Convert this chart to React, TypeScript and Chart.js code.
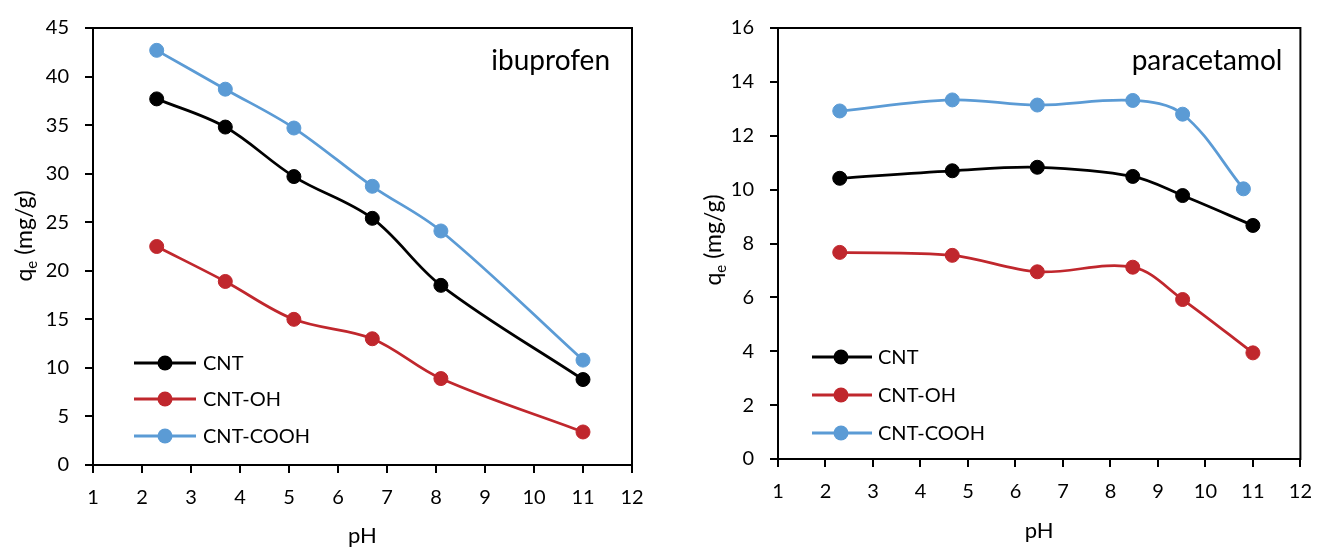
import React, { useEffect, useRef } from "react";
import { Chart, registerables } from "chart.js";
Chart.register(...registerables);

// ---------- data ----------
const seriesNames = ["CNT", "CNT-OH", "CNT-COOH"];
const seriesColors = ["#000000", "#C0272D", "#5B9BD5"];

const xTickValues = [1, 2, 3, 4, 5, 6, 7, 8, 9, 10, 11, 12];

// ibuprofen panel
const ibuPH = [2.3, 3.7, 5.1, 6.7, 8.1, 11.0];
const ibuCNT = [37.7, 34.8, 29.7, 25.4, 18.5, 8.8];
const ibuOH = [22.5, 18.9, 15.0, 13.0, 8.9, 3.4];
const ibuCOOH = [42.7, 38.7, 34.7, 28.7, 24.1, 10.8];
const ibuYTicks = [0, 5, 10, 15, 20, 25, 30, 35, 40, 45];

// paracetamol panel
const parPH = [2.3, 4.67, 6.46, 8.47, 9.52, 11.0];
const parPHCOOH = [2.3, 4.67, 6.46, 8.47, 9.52, 10.8];
const parCNT = [10.42, 10.7, 10.83, 10.49, 9.78, 8.67];
const parOH = [7.67, 7.56, 6.95, 7.12, 5.92, 3.94];
const parCOOH = [12.92, 13.33, 13.14, 13.31, 12.8, 10.03];
const parYTicks = [0, 2, 4, 6, 8, 10, 12, 14, 16];

const xTitle = "pH";
const FONT = "Lato, 'Open Sans', sans-serif";
const H = 549;

type Panel = {
  left: number;
  width: number;
  area: { left: number; top: number; right: number; bottom: number };
  label: string;
  labelRightGap: number;
  yTicks: number[];
  xs: number[][];
  ys: number[][];
  yTitleX: number;
  yTitleY: number;
  xTitleY: number;
  legend: { x1: number; x2: number; cx: number; tx: number; rows: number[] };
};

const panels: Panel[] = [
  {
    left: 0,
    width: 662,
    area: { left: 93, top: 24, right: 632, bottom: 465 },
    label: "ibuprofen",
    labelRightGap: 22,
    yTicks: ibuYTicks,
    xs: [ibuPH, ibuPH, ibuPH],
    ys: [ibuCNT, ibuOH, ibuCOOH],
    yTitleX: 25,
    yTitleY: 236,
    xTitleY: 536,
    legend: { x1: 134, x2: 196, cx: 165, tx: 203, rows: [363, 399, 436] },
  },
  {
    left: 662,
    width: 663,
    area: { left: 116, top: 21, right: 648, bottom: 459 },
    label: "paracetamol",
    labelRightGap: 18,
    yTicks: parYTicks,
    xs: [parPH, parPH, parPHCOOH],
    ys: [parCNT, parOH, parCOOH],
    yTitleX: 52,
    yTitleY: 240,
    xTitleY: 531,
    legend: { x1: 150, x2: 210, cx: 179, tx: 216, rows: [357, 395, 433] },
  },
];

function makeDecor(p: Panel) {
  return {
    id: "decor",
    beforeDatasetsDraw(chart: any) {
      const ctx = chart.ctx;
      const a = chart.chartArea;
      ctx.save();
      ctx.strokeStyle = "#000";
      ctx.lineWidth = 2;
      ctx.strokeRect(a.left, a.top, a.right - a.left, a.bottom - a.top);
      ctx.restore();
    },
    afterDraw(chart: any) {
      const ctx = chart.ctx;
      const a = chart.chartArea;
      ctx.save();
      ctx.fillStyle = "#000";
      // panel label
      ctx.font = `28px ${FONT}`;
      ctx.textAlign = "right";
      ctx.textBaseline = "middle";
      ctx.fillText(p.label, a.right - p.labelRightGap, a.top + 33);
      // x title
      ctx.font = `22px ${FONT}`;
      ctx.textAlign = "center";
      ctx.fillText(xTitle, (a.left + a.right) / 2, p.xTitleY);
      // y title with subscript
      ctx.save();
      ctx.translate(p.yTitleX, p.yTitleY);
      ctx.rotate(-Math.PI / 2);
      ctx.textAlign = "left";
      ctx.textBaseline = "middle";
      ctx.font = `23px ${FONT}`;
      const wq = ctx.measureText("q").width;
      const wr = ctx.measureText(" (mg/g)").width;
      ctx.font = `15px ${FONT}`;
      const we = ctx.measureText("e").width;
      let x = -(wq + we + wr) / 2;
      ctx.font = `23px ${FONT}`;
      ctx.fillText("q", x, 0);
      x += wq;
      ctx.font = `15px ${FONT}`;
      ctx.fillText("e", x, 7);
      x += we;
      ctx.font = `23px ${FONT}`;
      ctx.fillText(" (mg/g)", x, 0);
      ctx.restore();
      // legend
      const L = p.legend;
      seriesNames.forEach((name, i) => {
        const y = L.rows[i];
        ctx.strokeStyle = seriesColors[i];
        ctx.lineWidth = 3;
        ctx.beginPath();
        ctx.moveTo(L.x1, y);
        ctx.lineTo(L.x2, y);
        ctx.stroke();
        ctx.fillStyle = seriesColors[i];
        ctx.beginPath();
        ctx.arc(L.cx, y, 7.5, 0, Math.PI * 2);
        ctx.fill();
        ctx.fillStyle = "#000";
        ctx.font = `20px ${FONT}`;
        ctx.textAlign = "left";
        ctx.textBaseline = "middle";
        ctx.fillText(name, L.tx, y + 1);
      });
      ctx.restore();
    },
  };
}

function ChartPanel({ p }: { p: Panel }) {
  const ref = useRef<HTMLCanvasElement | null>(null);
  useEffect(() => {
    if (!ref.current) return;
    const datasets = seriesNames.map((name, i) => ({
      label: name,
      data: p.xs[i].map((x, j) => ({ x, y: p.ys[i][j] })),
      borderColor: seriesColors[i],
      backgroundColor: seriesColors[i],
      pointBackgroundColor: seriesColors[i],
      pointBorderColor: seriesColors[i],
      borderWidth: 2.75,
      pointRadius: 7,
      pointBorderWidth: 1,
      tension: 0.35,
      fill: false,
      order: 3 - i,
    }));
    const tickFont = { family: FONT, size: 20 };
    const chart = new Chart(ref.current, {
      type: "line",
      data: { datasets },
      options: {
        responsive: false,
        animation: false,
        layout: {
          padding: { top: p.area.top, right: p.width - p.area.right, left: 0, bottom: 0 },
        },
        plugins: { legend: { display: false }, tooltip: { enabled: false } },
        scales: {
          x: {
            type: "linear",
            min: xTickValues[0],
            max: xTickValues[xTickValues.length - 1],
            afterBuildTicks: (s: any) => {
              s.ticks = xTickValues.map((v) => ({ value: v }));
            },
            afterFit: (s: any) => {
              s.height = H - p.area.bottom;
            },
            grid: { drawOnChartArea: false, drawTicks: true, tickLength: 8, color: "#000", lineWidth: 2 },
            border: { display: false },
            ticks: { font: tickFont, color: "#000", padding: 13, maxRotation: 0, autoSkip: false },
          },
          y: {
            type: "linear",
            min: p.yTicks[0],
            max: p.yTicks[p.yTicks.length - 1],
            afterBuildTicks: (s: any) => {
              s.ticks = p.yTicks.map((v) => ({ value: v }));
            },
            afterFit: (s: any) => {
              s.width = p.area.left;
            },
            grid: { drawOnChartArea: false, drawTicks: true, tickLength: 8, color: "#000", lineWidth: 2 },
            border: { display: false },
            ticks: { font: tickFont, color: "#000", padding: 16, autoSkip: false },
          },
        },
      },
      plugins: [makeDecor(p)],
    } as any);
    return () => chart.destroy();
  }, [p]);
  return (
    <canvas
      ref={ref}
      width={p.width}
      height={H}
      style={{ position: "absolute", left: p.left, top: 0, width: p.width, height: H }}
    />
  );
}

export default function App() {
  return (
    <div style={{ position: "absolute", left: 0, top: 0, width: 1325, height: H, background: "#fff" }}>
      {panels.map((p, i) => (
        <ChartPanel key={i} p={p} />
      ))}
    </div>
  );
}
